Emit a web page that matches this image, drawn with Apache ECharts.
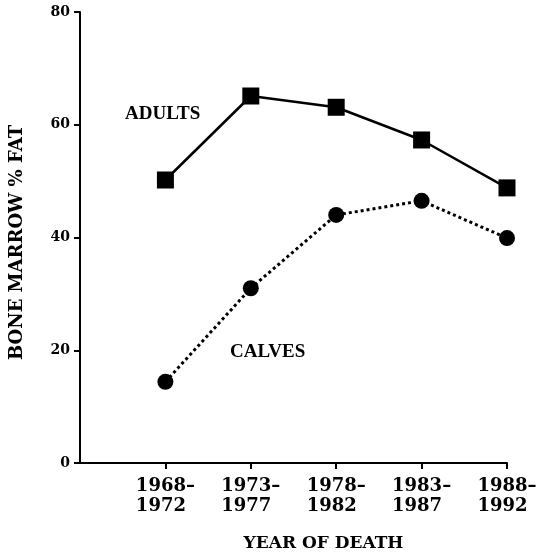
<!DOCTYPE html>
<html>
<head>
<meta charset="utf-8">
<script src="https://cdn.jsdelivr.net/npm/echarts@6/dist/echarts.min.js"></script>
<style>
  html, body { margin: 0; padding: 0; background: #fff; }
  #chart { width: 540px; height: 557px; }
</style>
</head>
<body>
<div id="chart"></div>
<script>
const periods = ['1968–\n1972', '1973–\n1977', '1978–\n1982', '1983–\n1987', '1988–\n1992']
const adults = [50.2, 65.1, 63.1, 57.3, 48.8]
const calves = [14.4, 31.0, 44.0, 46.5, 39.9]
const yTicks = [0, 20, 40, 60, 80]

const wide = 'DejaVu Serif, serif'
const narrow = 'Liberation Serif, serif'
const toPoints = vals => vals.map((v, i) => [i + 1, v])
// pad the second line so both lines start at the same x
const periodLabel = v => {
  const p = periods[v - 1]
  return p ? p + '\u2002' : ''
}

const chart = echarts.init(document.getElementById('chart'))

chart.setOption({
  backgroundColor: '#fff',
  animation: false,
  grid: { left: 79, top: 12, right: 33, bottom: 94 },
  xAxis: {
    type: 'value',
    min: 0,
    max: periods.length,
    interval: 1,
    name: 'YEAR OF DEATH',
    nameLocation: 'middle',
    nameGap: 72,
    nameTextStyle: { fontFamily: wide, fontWeight: 'bold', fontSize: 17, color: '#000', padding: [0, 0, 0, 60] },
    axisLine: { lineStyle: { color: '#000', width: 2 } },
    axisTick: {
      length: 6, lineStyle: { color: '#000', width: 2 },
      customValues: [1, 2, 3, 4, 5]
    },
    splitLine: { show: false },
    axisLabel: {
      customValues: [1, 2, 3, 4, 5],
      formatter: periodLabel,
      fontFamily: wide, fontWeight: 'bold', fontSize: 18, color: '#000',
      lineHeight: 20, margin: 13
    }
  },
  yAxis: {
    type: 'value',
    min: 0,
    max: 80,
    interval: 20,
    name: 'BONE MARROW % FAT',
    nameLocation: 'middle',
    nameGap: 54,
    nameRotate: 90,
    nameTextStyle: { fontFamily: wide, fontWeight: 'bold', fontSize: 18, color: '#000', padding: [0, 10, 0, 0] },
    axisLine: { show: true, lineStyle: { color: '#000', width: 2 } },
    axisTick: { show: true, length: 6, lineStyle: { color: '#000', width: 2 } },
    splitLine: { show: false },
    axisLabel: {
      formatter: v => yTicks.includes(v) ? String(v) : '',
      fontFamily: wide, fontWeight: 'bold', fontSize: 14, color: '#000', margin: 10
    }
  },
  series: [
    {
      name: 'ADULTS',
      type: 'line',
      data: toPoints(adults),
      symbol: 'rect',
      symbolSize: 17,
      itemStyle: { color: '#000' },
      lineStyle: { color: '#000', width: 2.5, type: 'solid' }
    },
    {
      name: 'CALVES',
      type: 'line',
      data: toPoints(calves),
      symbol: 'circle',
      symbolSize: 16,
      itemStyle: { color: '#000' },
      lineStyle: { color: '#000', width: 3, type: [3, 3] }
    }
  ],
  graphic: [
    {
      type: 'text', left: 125, top: 105,
      style: { text: 'ADULTS', font: 'bold 19px ' + narrow, fill: '#000' }
    },
    {
      type: 'text', left: 230, top: 343,
      style: { text: 'CALVES', font: 'bold 19px ' + narrow, fill: '#000' }
    }
  ]
})
</script>
</body>
</html>
